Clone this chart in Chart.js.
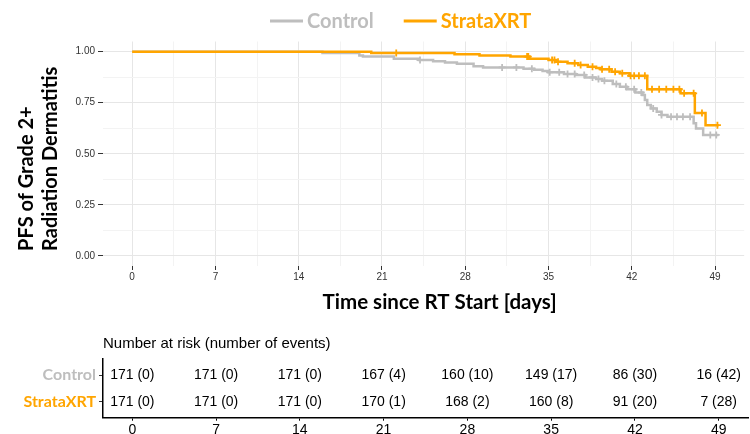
<!DOCTYPE html>
<html>
<head>
<meta charset="utf-8">
<title>PFS of Grade 2+ Radiation Dermatitis</title>
<script src="https://cdn.jsdelivr.net/npm/chart.js@4.4.1/dist/chart.umd.min.js"></script>
<style>
  html, body { margin: 0; padding: 0; background: #fff; }
  #wrap { position: relative; width: 750px; height: 434px; }
  #km { position: absolute; left: 0; top: 0; }
  #risk { position: absolute; left: 0; top: 320px; }
</style>
</head>
<body>
<div id="wrap">
  <canvas id="km" width="750" height="320" style="width:750px;height:320px"></canvas>
  <canvas id="risk" width="750" height="114" style="width:750px;height:114px"></canvas>
</div>
<script>
// groups and colours
const groups = ['Control', 'StrataXRT'];
const groupColors = ['#bebebe', '#ffa500'];

// Kaplan-Meier steps (time in days, survival after the step)
const controlTimes = [0, 16.0, 19.1, 19.4, 22.0, 24.1, 25.3, 26.3, 27.3, 28.7, 29.5, 32.9, 33.8, 34.5, 35.0,
  36.3, 37.3, 38.1, 39.0, 39.5, 40.4, 41.0, 41.6, 42.3, 42.9, 43.1, 43.3, 43.6, 44.1, 44.5, 45.0,
  47.2, 47.4, 48.0, 49.3];
const controlSurv = [1, 0.994, 0.982, 0.977, 0.965, 0.959, 0.953, 0.947, 0.941, 0.929, 0.923, 0.917, 0.911, 0.905, 0.899,
  0.891, 0.886, 0.874, 0.866, 0.858, 0.842, 0.828, 0.816, 0.800, 0.788, 0.763, 0.739, 0.722, 0.706, 0.690, 0.681,
  0.649, 0.624, 0.592, 0.592];
const controlCensor = [24.2, 31.1, 32.3, 33.6, 35.1, 35.9, 36.6, 37.2, 38.0, 38.7, 39.2, 39.7, 40.7, 41.5,
  42.2, 42.8, 43.8, 44.5, 45.3, 45.8, 46.3, 46.9, 48.6, 49.1];

const strataTimes = [0, 20.1, 27.1, 29.2, 31.8, 33.4, 35.0, 35.6, 36.6, 37.5, 38.3, 39.0, 39.4, 40.3, 41.0,
  41.8, 43.3, 46.1, 47.3, 48.2, 49.3];
const strataSurv = [1, 0.994, 0.988, 0.982, 0.976, 0.965, 0.959, 0.951, 0.943, 0.935, 0.926, 0.920, 0.914, 0.902, 0.894,
  0.882, 0.816, 0.796, 0.700, 0.640, 0.640];
const strataCensor = [22.2, 33.2, 33.3, 35.3, 35.5, 35.8, 37.2, 37.7, 38.7, 39.5, 40.1, 40.6, 41.2, 41.9,
  42.2, 42.6, 43.1, 43.7, 44.3, 44.9, 45.5, 46.0, 46.4, 47.2, 47.9, 49.2];

// axis ticks
const xMajor = [0, 7, 14, 21, 28, 35, 42, 49];
const yMajor = [0, 0.25, 0.5, 0.75, 1];

// risk table
const riskDays = [0, 7, 14, 21, 28, 35, 42, 49];
const controlAtRisk = [171, 171, 171, 167, 160, 149, 86, 16];
const controlEvents = [0, 0, 0, 4, 10, 17, 30, 42];
const strataAtRisk = [171, 171, 171, 170, 168, 160, 91, 7];
const strataEvents = [0, 0, 0, 1, 2, 8, 20, 28];

const yTitleLines = ['PFS of Grade 2+', 'Radiation Dermatitis'];
const xTitle = 'Time since RT Start [days]';
const tableTitle = 'Number at risk (number of events)';

const boldFont = 'Lato, "Open Sans", sans-serif';
const tickFont = '"Liberation Sans Narrow", "Liberation Sans", Arial, sans-serif';
const tableFont = '"Liberation Sans", Arial, sans-serif';

function survAt(times, surv, t) {
    let s = surv[0];
    for (let i = 0; i < times.length; i++) {
        if (times[i] <= t) s = surv[i];
    }
    return s;
}

function stepPoints(times, surv) {
    return times.map((t, i) => ({ x: t, y: surv[i] }));
}

function censorPoints(times, surv, cens) {
    return cens.map(c => ({ x: c, y: survAt(times, surv, c) }));
}

// minor grid halfway between majors
function withMinors(major) {
    const out = [];
    major.forEach((v, i) => {
        out.push(v);
        if (i < major.length - 1) out.push((v + major[i + 1]) / 2);
    });
    return out;
}

// legend drawn like the ggplot key
const kmLegend = {
    id: 'kmLegend',
    afterDraw(chart) {
        const ctx = chart.ctx;
        ctx.save();
        ctx.font = 'bold 20px ' + boldFont;
        ctx.textBaseline = 'middle';
        let x = 270;
        const y = 21;
        groups.forEach((name, i) => {
            ctx.strokeStyle = groupColors[i];
            ctx.lineWidth = 3;
            ctx.beginPath();
            ctx.moveTo(x, y);
            ctx.lineTo(x + 33, y);
            ctx.stroke();
            ctx.fillStyle = groupColors[i];
            ctx.textAlign = 'left';
            ctx.fillText(name, x + 37, y + 1);
            x += 37 + ctx.measureText(name).width + 30;
        });
        ctx.restore();
    }
};

// axis titles: two-line y title (lines share the bottom edge) and x title
const kmTitles = {
    id: 'kmTitles',
    afterDraw(chart) {
        const { ctx, chartArea } = chart;
        ctx.save();
        ctx.font = 'bold 20px ' + boldFont;
        ctx.fillStyle = '#000';
        ctx.textAlign = 'left';
        ctx.textBaseline = 'middle';
        const w = Math.max(...yTitleLines.map(l => ctx.measureText(l).width));
        const cy = (chartArea.top + chartArea.bottom) / 2 + 5;
        yTitleLines.forEach((line, i) => {
            ctx.save();
            ctx.translate(27 + i * 24, cy + w / 2);
            ctx.rotate(-Math.PI / 2);
            ctx.fillText(line, 0, 0);
            ctx.restore();
        });
        ctx.font = 'bold 20.5px ' + boldFont;
        ctx.textAlign = 'center';
        ctx.fillText(xTitle, (chartArea.left + chartArea.right) / 2 + 16, chartArea.bottom + 36);
        ctx.restore();
    }
};

const kmChart = new Chart(document.getElementById('km'), {
    type: 'line',
    data: {
        datasets: [
            {
                label: groups[0],
                data: stepPoints(controlTimes, controlSurv),
                borderColor: groupColors[0],
                borderWidth: 2.5,
                stepped: true,
                pointRadius: 0,
                order: 4
            },
            {
                label: groups[0] + ' censored',
                data: censorPoints(controlTimes, controlSurv, controlCensor),
                showLine: false,
                pointStyle: 'cross',
                pointRadius: 3.5,
                pointBorderWidth: 1.8,
                pointBorderColor: groupColors[0],
                order: 3
            },
            {
                label: groups[1],
                data: stepPoints(strataTimes, strataSurv),
                borderColor: groupColors[1],
                borderWidth: 2.5,
                stepped: true,
                pointRadius: 0,
                order: 2
            },
            {
                label: groups[1] + ' censored',
                data: censorPoints(strataTimes, strataSurv, strataCensor),
                showLine: false,
                pointStyle: 'cross',
                pointRadius: 3.5,
                pointBorderWidth: 1.8,
                pointBorderColor: groupColors[1],
                order: 1
            }
        ]
    },
    options: {
        responsive: false,
        animation: false,
        layout: { padding: { top: 41.5, right: 2, left: 0, bottom: 0 } },
        scales: {
            x: {
                type: 'linear',
                min: -2.45,
                max: 51.45,
                afterBuildTicks: scale => {
                    scale.ticks = withMinors(xMajor).map(v => ({ value: v }));
                },
                afterFit: scale => { scale.height = 54; },
                ticks: {
                    autoSkip: false,
                    maxRotation: 0,
                    padding: 1,
                    color: '#333',
                    font: { family: tickFont, size: 10 },
                    callback: v => xMajor.includes(v) ? String(v) : ''
                },
                grid: {
                    color: c => c.tick && xMajor.includes(c.tick.value) ? '#e6e6e6' : '#f3f3f3',
                    lineWidth: 1,
                    tickLength: 4,
                    tickColor: c => c.tick && xMajor.includes(c.tick.value) ? '#333' : 'rgba(0,0,0,0)'
                },
                border: { display: false }
            },
            y: {
                min: -0.05,
                max: 1.05,
                afterBuildTicks: scale => {
                    scale.ticks = withMinors(yMajor).map(v => ({ value: v }));
                },
                afterFit: scale => { scale.width = 103; },
                ticks: {
                    padding: 3,
                    color: '#333',
                    font: { family: tickFont, size: 10 },
                    callback: v => yMajor.includes(v) ? v.toFixed(2) : ''
                },
                grid: {
                    color: c => c.tick && yMajor.includes(c.tick.value) ? '#e6e6e6' : '#f3f3f3',
                    lineWidth: 1,
                    tickLength: 5,
                    tickColor: c => c.tick && yMajor.includes(c.tick.value) ? '#333' : 'rgba(0,0,0,0)'
                },
                border: { display: false }
            }
        },
        plugins: {
            legend: { display: false },
            tooltip: { enabled: false }
        }
    },
    plugins: [kmLegend, kmTitles]
});

// risk table: numbers placed on the library's scales
const riskText = {
    id: 'riskText',
    afterDatasetsDraw(chart) {
        const ctx = chart.ctx;
        ctx.save();
        ctx.fillStyle = '#000';
        ctx.font = '14px ' + tableFont;
        ctx.textAlign = 'center';
        ctx.textBaseline = 'middle';
        chart.data.datasets.forEach((ds, d) => {
            chart.getDatasetMeta(d).data.forEach((pt, i) => {
                ctx.fillText(ds.atRisk[i] + ' (' + ds.events[i] + ')', pt.x, pt.y);
            });
        });
        ctx.font = '15px ' + tableFont;
        ctx.textAlign = 'left';
        ctx.fillText(tableTitle, chart.chartArea.left, 24);
        ctx.restore();
    }
};

// row 2 = Control, row 1 = StrataXRT
const rowOf = [2, 1];

const riskChart = new Chart(document.getElementById('risk'), {
    type: 'line',
    data: {
        datasets: [
            {
                label: groups[0],
                data: riskDays.map(d => ({ x: d, y: rowOf[0] })),
                atRisk: controlAtRisk,
                events: controlEvents,
                showLine: false,
                pointRadius: 0
            },
            {
                label: groups[1],
                data: riskDays.map(d => ({ x: d, y: rowOf[1] })),
                atRisk: strataAtRisk,
                events: strataEvents,
                showLine: false,
                pointRadius: 0
            }
        ]
    },
    options: {
        responsive: false,
        animation: false,
        layout: { padding: { top: 39, right: 2, left: 0, bottom: 0 } },
        scales: {
            x: {
                type: 'linear',
                min: -2.45,
                max: 51.45,
                afterBuildTicks: scale => {
                    scale.ticks = xMajor.map(v => ({ value: v }));
                },
                afterFit: scale => { scale.height = 16.3; },
                ticks: {
                    autoSkip: false,
                    maxRotation: 0,
                    padding: 1,
                    color: '#000',
                    font: { family: tableFont, size: 14 }
                },
                grid: {
                    drawOnChartArea: false,
                    tickLength: 3,
                    tickColor: '#000'
                },
                border: { display: true, color: '#000', width: 1.5 }
            },
            y: {
                type: 'linear',
                min: 0.4,
                max: 2.6,
                afterBuildTicks: scale => {
                    scale.ticks = rowOf.map(v => ({ value: v }));
                },
                afterFit: scale => { scale.width = 103; },
                ticks: {
                    padding: 3,
                    font: { family: boldFont, size: 16, weight: 'bold' },
                    color: c => groupColors[rowOf.indexOf(c.tick.value)],
                    callback: v => groups[rowOf.indexOf(v)]
                },
                grid: {
                    drawOnChartArea: false,
                    tickLength: 4,
                    tickColor: '#333'
                },
                border: { display: true, color: '#000', width: 1.5 }
            }
        },
        plugins: {
            legend: { display: false },
            tooltip: { enabled: false }
        }
    },
    plugins: [riskText]
});
</script>
</body>
</html>
